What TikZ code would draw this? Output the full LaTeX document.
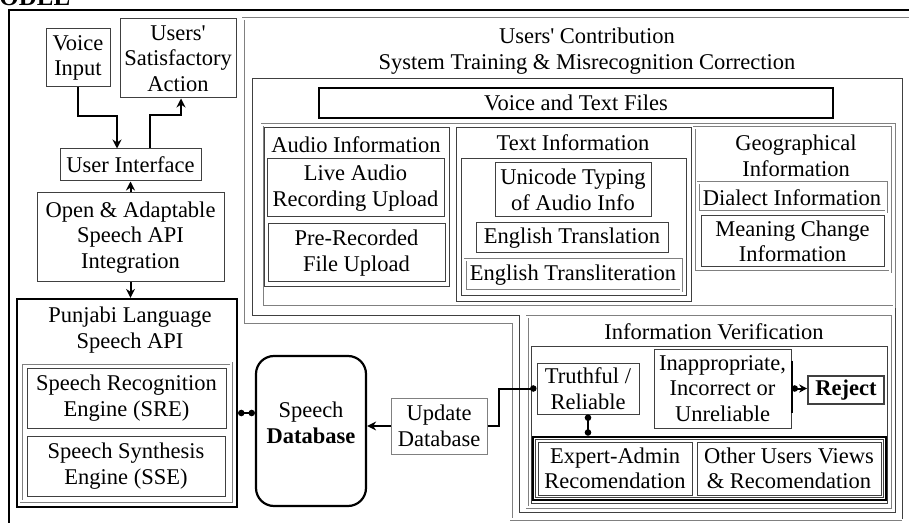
\documentclass[tikz,border=0pt]{standalone}
\usepackage{fontspec}
\setmainfont{Liberation Serif}
\usetikzlibrary{arrows.meta}

\begin{document}
\begin{tikzpicture}[x=0.5pt,y=-0.5pt,
        font=\fontsize{11.25}{12.75}\selectfont,
        every node/.style={align=center,inner sep=0pt},
        sz/.style 2 args={minimum width=#1*0.5pt,minimum height=#2*0.5pt},
        box/.style={draw=black!75,line width=0.5pt},
        gbox/.style={draw=black!50,double,double distance=0.7pt,line width=0.4pt},
        bbox/.style={draw=black,line width=1.1pt},
        arr/.style={line width=1pt,-{Stealth[length=4.5pt,width=4.5pt]}},
        dotline/.style={line width=1pt,{Circle[length=3.2pt]}-{Circle[length=3.2pt]}},
        dotend/.style={line width=1pt,-{Circle[length=3.2pt]}},
        dotarr/.style={line width=1pt,{Circle[length=3.2pt]}-{Stealth[length=4pt,width=4pt]}}]
  \useasboundingbox (0,0) rectangle (909,523);

  % caption and outer frame
  \node[anchor=base west,font=\fontsize{12.5}{14}\selectfont\bfseries] (cap) at (-1,6) {ODEL};
  \draw[line width=1.3pt] (9,530) -- (9,10) -- (915,10);

  % user side
  \node[box, sz={64}{58}] (vin) at (78,58) {Voice\\Input};
  \node[box, sz={116}{79}] (usa) at (178,58.5) {Users\textquotesingle\\Satisfactory\\Action};
  \node[box, sz={141}{32}] (ui) at (130.5,165) {User Interface};
  \node[box, sz={187}{89}] (api) at (130.5,237.5) {Open \& Adaptable\\Speech API\\Integration};

  % speech api and engines
  \node[bbox, sz={220}{208}] (pl) at (127,403) {};
  \node (pllbl) at (130,330) {Punjabi Language\\Speech API};
  \node[gbox, sz={210}{138}] (eng) at (126,432) {};
  \node[box, sz={199}{60}] (sre) at (126.5,398) {Speech Recognition\\Engine (SRE)};
  \node[box, sz={198}{60}] (sse) at (126,466) {Speech Synthesis\\Engine (SSE)};

  % database
  \node[bbox, rounded corners=9pt, sz={110}{150}] (db) at (311,431) {};
  \node (dblbl) at (311,423) {Speech\\\textbf{Database}};
  \node[box, draw=black!50, sz={96}{56}] (upd) at (439,426) {Update\\Database};

  % users' contribution frames
  \draw[gbox] (915,19) -- (243,19) -- (243,325) -- (511,325) -- (511,519) -- (902,519);
  \draw[box] (902,519) -- (902,79) -- (252,79) -- (252,316) -- (519,316) -- (519,512) -- (895,512) -- (895,307);
  \node (uclbl) at (587,51) {Users\textquotesingle\ Contribution\\System Training \& Misrecognition Correction};
  \node[bbox, sz={514}{30}] (vtf) at (576,103) {Voice and Text Files};
  \node[gbox, sz={632}{182}] (cols) at (578,216) {};

  % audio column
  \node[box, sz={185}{159}] (aud) at (356.5,207.5) {};
  \node (audlbl) at (356,145) {Audio Information};
  \node[box, sz={177}{58}] (live) at (355.5,188) {Live Audio\\Recording Upload};
  \node[box, sz={177}{58}] (pre) at (356.5,253) {Pre-Recorded\\File Upload};

  % text column
  \node[box, sz={235}{174}] (txt) at (573.5,215) {};
  \node (txtlbl) at (573,143) {Text Information};
  \node[box, sz={225}{137}] (txtin) at (573.5,227.5) {};
  \node[box, sz={156}{54}] (uni) at (573,190) {Unicode Typing\\of Audio Info};
  \node[box, sz={192}{30}] (etr) at (572,238) {English Translation};
  \node[gbox, sz={216}{31}] (etl) at (573,275.5) {English Transliteration};

  % geography column
  \node[gbox, sz={196}{144}] (geo) at (792,200) {};
  \node (geolbl) at (796,156) {Geographical\\Information};
  \node[gbox, sz={188}{29}] (dia) at (792,197.5) {Dialect Information};
  \node[box, sz={183}{51}] (mean) at (792.5,241.5) {Meaning Change\\Information};

  % verification
  \node[gbox, sz={363}{190}] (iv) at (708.5,412) {};
  \node (ivlbl) at (714,332) {Information Verification};
  \node[box, sz={356}{156}] (ivin) at (709,425) {};
  \node[box, sz={102}{51}] (tr) at (588,388.5) {Truthful /\\Reliable};
  \node[box, sz={137}{79}] (inap) at (722.5,388.5) {Inappropriate,\\Incorrect or\\Unreliable};
  \node[box, line width=0.8pt, sz={76}{28}] (rej) at (846,390) {\textbf{Reject}};
  \node[draw, line width=1.3pt, sz={353}{63}] (grp) at (709.5,468.5) {};
  \node[box, sz={348}{58}] (grpin) at (709.5,468.5) {};
  \node[box, sz={154}{53}] (exp) at (615,468.5) {Expert-Admin\\Recomendation};
  \node[box, sz={184}{53}] (oth) at (789,468.5) {Other Users Views\\\& Recomendation};

  % connectors
  \draw[arr] (vin.south) -- ++(0,29) -| ([xshift=-6.75pt]ui.north);
  \draw[arr] ([xshift=9.75pt]ui.north) -- ++(0,-33) -| ([xshift=1.5pt]usa.south);
  \draw[arr] (api.north) -- (ui.south);
  \draw[arr] (api.south) -- (api.south |- pl.north);
  \draw[dotline] ([yshift=-5pt]pl.east) -- ([yshift=-5pt]pl.east -| db.west);
  \draw[arr] (upd.west) -- (upd.west -| db.east);
  \draw[dotend] (upd.east) -- ++(11,0) |- (tr.west);
  \draw[dotline] (tr.south) -- (tr.south |- grp.north);
  \draw[line width=1pt] ([yshift=14pt]inap.east) -- ([yshift=-12pt]inap.east);
  \draw[dotarr] (inap.east) -- (inap.east -| rej.west);
\end{tikzpicture}
\end{document}
